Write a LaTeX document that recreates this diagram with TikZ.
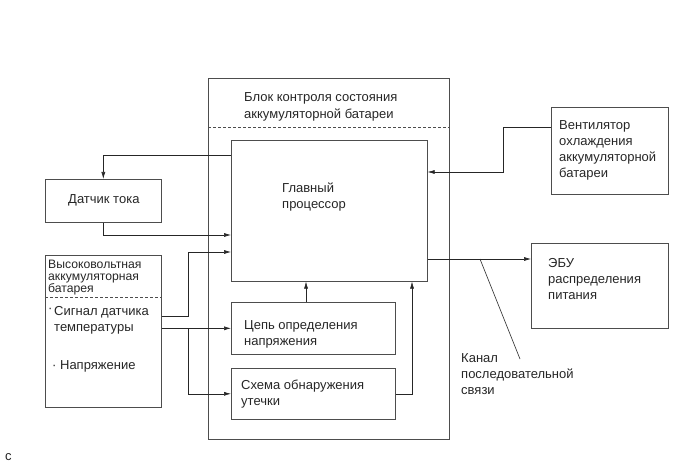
\documentclass[tikz,border=0pt]{standalone}
\usepackage{fontspec}
\setmainfont{Liberation Sans}
\usetikzlibrary{arrows.meta,positioning,calc}
\definecolor{ink}{HTML}{262626}
\definecolor{boxline}{HTML}{4D4D4D}
\tikzset{
  blockbox/.style={draw=boxline, line width=0.6pt, anchor=north west, inner sep=0pt},
  blocktext/.style={anchor=base west, align=left, inner sep=0pt,
    font=\fontsize{13}{16}\selectfont, text=ink},
  wire/.style={draw=ink, line width=0.6pt},
  sigarrow/.style={wire, -{Latex[length=7pt,width=4pt]}},
  sepline/.style={draw=boxline, line width=0.5pt, dash pattern=on 3pt off 2pt}
}

\begin{document}
\begin{tikzpicture}[x=1pt,y=-1pt]
  \useasboundingbox (0,0) rectangle (690,465);
  % blocks
  \node[blockbox, minimum width=241pt, minimum height=361pt] (mon) at (208,78) {};
  \node[blockbox, minimum width=196pt, minimum height=141pt] (cpu) at (231,140) {};
  \node[blockbox, minimum width=116pt, minimum height=43pt] (curr) at (45,179) {};
  \node[blockbox, minimum width=116pt, minimum height=152pt] (bat) at (45,255) {};
  \node[blockbox, minimum width=164pt, minimum height=52pt] (volt) at (231,302) {};
  \node[blockbox, minimum width=164pt, minimum height=51pt] (leak) at (231,368) {};
  \node[blockbox, minimum width=117pt, minimum height=87pt] (fan) at (551,107) {};
  \node[blockbox, minimum width=137pt, minimum height=85pt] (ecu) at (531,243) {};
  \draw[sepline] (mon.west |- 0,127) -- (mon.east |- 0,127);
  \draw[sepline] (bat.west |- 0,297) -- (bat.east |- 0,297);
  % texts (anchored on the last line)
  \node[blocktext, font=\fontsize{13}{17}\selectfont] (montxt) at (244,119) {Блок контроля состояния\\аккумуляторной батареи};
  \node[blocktext] (cputxt) at (282,208) {Главный\\процессор};
  \node[blocktext] (currtxt) at (68,204) {Датчик тока};
  \node[blocktext, font=\fontsize{12.2}{12}\selectfont] (battxt) at (48,292) {Высоковольтная\\аккумуляторная\\батарея};
  \node[blocktext] (temptxt) at (54,331) {Сигнал датчика\\температуры};
  \node[blocktext] (dottxt) at (48,312) {·};
  \node[blocktext] (vtxt) at (52,369) {· Напряжение};
  \node[blocktext] (volttxt) at (244,345) {Цепь определения\\напряжения};
  \node[blocktext] (leaktxt) at (241,405) {Схема обнаружения\\утечки};
  \node[blocktext] (fantxt) at (559,178) {Вентилятор\\охлаждения\\аккумуляторной\\батареи};
  \node[blocktext] (ecutxt) at (548,299) {ЭБУ\\распределения\\питания};
  \node[blocktext] (sertxt) at (461,394) {Канал\\последовательной\\связи};
  \node[blocktext] (ctxt) at (5,460) {c};
  % connections
  \draw[sigarrow] (cpu.west |- 0,155) -| (curr.north);
  \draw[sigarrow] (curr.south) |- (cpu.west |- 0,235);
  \draw[sigarrow] (bat.east |- 0,316) -| (188,252) -- (cpu.west |- 0,252);
  \draw[sigarrow] (bat.east |- volt.west) -- (volt.west);
  \draw[sigarrow] (188,329) |- (leak.west);
  \draw[sigarrow] (volt.north -| 306,0) -- (cpu.south -| 306,0);
  \draw[sigarrow] (leak.east) -| (cpu.south -| 412,0);
  \draw[sigarrow] (fan.west |- 0,127) -| (503,172) -- (cpu.east |- 0,172);
  \draw[sigarrow] (cpu.east |- 0,259) -- (ecu.west |- 0,259);
  \coordinate (sertap) at (480,259);
  \coordinate (serend) at (520,359);
  \draw[wire] (sertap) -- (serend);
\end{tikzpicture}
\end{document}
